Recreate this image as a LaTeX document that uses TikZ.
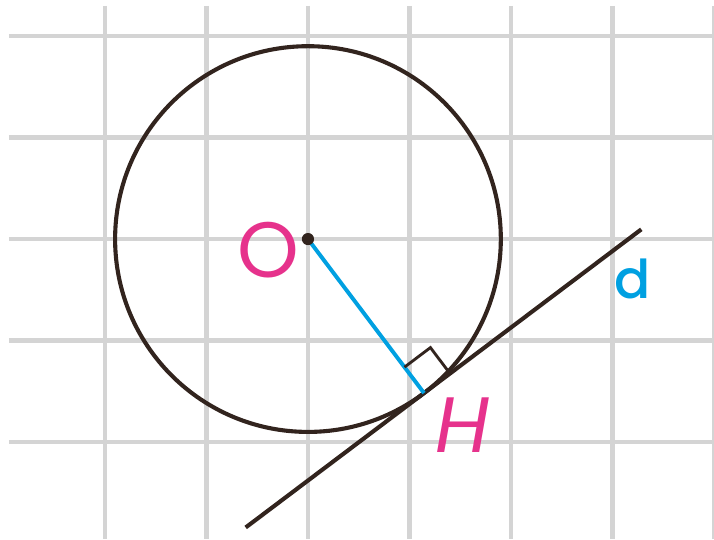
\documentclass[tikz,border=0pt]{standalone}
\usepackage{fontspec}
\setsansfont{Poppins}
\newfontfamily\mediumsans{Poppins Medium}
\usetikzlibrary{calc}

\begin{document}
\begin{tikzpicture}[font=\sffamily,
    gridline/.style={line width=1.25pt, draw=gridgray},
    figline/.style={line width=1.15pt, draw=inkbrown},
    bigletter/.style={inner sep=0pt, font=\sffamily\fontsize{22}{26}\selectfont}]

    % Define custom colors
    \definecolor{gridgray}{RGB}{212, 212, 212}
    \definecolor{inkbrown}{RGB}{50, 36, 30}
    \definecolor{pinkmark}{RGB}{230, 50, 140}
    \definecolor{cyanline}{RGB}{0, 160, 225}

    % 0. Frame: one grid square = 1 unit, origin at the centre O
    \useasboundingbox (-3.034,-2.956) rectangle (4.0,2.355);

    % 1. Grid (light gray)
    \foreach \x in {-2,...,4}
        \draw[gridline] (\x,2.296) -- (\x,-2.956);
    \foreach \y in {-2,...,2}
        \draw[gridline] (-2.946,\y) -- (4.0,\y);

    % 2. Circle around O
    \coordinate (O) at (0,0);
    \draw[figline] (O) circle (1.9);

    % 3. Tangent line d, touching the circle at H
    \coordinate (H) at (-53:1.9);
    \coordinate (d1) at ($(H)+(37:-2.2)$);
    \coordinate (d2) at ($(H)+(37:2.68)$);
    \draw[figline] (d1) -- (d2);

    % 4. Radius OH (blue) and right angle mark at H
    \draw[cyanline, line width=1.1pt] (O) -- (H);
    \draw[inkbrown, line width=0.8pt] ($(H)+(127:0.32)$) -- ++(37:0.32) -- ++(-53:0.32);

    % 5. Centre dot
    \fill[inkbrown] (O) circle (0.06);

    % 6. Labels
    \node[bigletter, text=pinkmark] (labelO) at (-0.39,-0.11) {O};
    \node[bigletter, text=pinkmark, font=\sffamily\itshape\fontsize{22}{26}\selectfont] (labelH) at (1.52,-1.83) {H};
    \node[inner sep=0pt, text=cyanline, font=\mediumsans\fontsize{15}{18}\selectfont] (labelD) at (3.2,-0.39) {d};

\end{tikzpicture}
\end{document}
